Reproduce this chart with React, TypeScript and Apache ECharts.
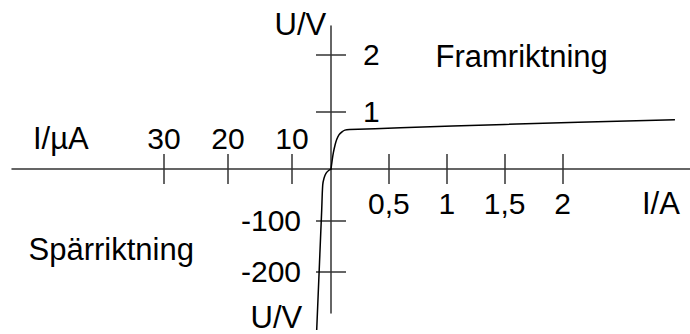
import React, { useEffect, useRef } from "react";
import * as echarts from "echarts";

// Forward direction (Framriktning): current in A, voltage in V
const forwardI = [0, 0.01, 0.02, 0.035, 0.05, 0.07, 0.095, 0.12, 0.16, 0.6, 1.5, 2.97];
const forwardU = [0, 0.15, 0.28, 0.42, 0.52, 0.6, 0.65, 0.68, 0.69, 0.72, 0.78, 0.86];

// Reverse direction (Spärriktning): current in µA, voltage in V
const reverseI = [3.8, 4.17, 4.69, 5.0, 5.2, 5.36, 6.14];
const reverseU = [0, -1.9, -8.4, -18, -31, -80, -313];

// Tick labels
const forwardITicks = [0.5, 1, 1.5, 2];
const forwardUTicks = [1, 2];
const reverseITicks = [10, 20, 30];
const reverseUTicks = [-100, -200];

const FONT = "'Liberation Sans', Arial, sans-serif";
const AXIS_COLOR = "#333";

export default function App() {
  const ref = useRef<HTMLDivElement>(null);

  useEffect(() => {
    if (!ref.current) return;
    const chart = echarts.init(ref.current, undefined, { renderer: "svg" });

    const lineStyle = { color: AXIS_COLOR, width: 1.5 };
    const labelBase = { fontSize: 30, fontFamily: FONT, color: "#000" };
    const tick = (values: number[], inside: boolean) => ({
      show: true,
      customValues: values,
      length: 15,
      inside,
      lineStyle,
    });
    const txt = (text: string, x: number, y: number) => ({
      type: "text",
      style: { text, x, y, font: `31px ${FONT}`, fill: "#000", textVerticalAlign: "middle" },
    });

    const option: any = {
      animation: false,
      grid: [
        { left: 331, top: 26, width: 359, height: 143 },
        { left: 12, top: 169, width: 319, height: 144 },
      ],
      xAxis: [
        {
          gridIndex: 0,
          type: "value",
          min: 0,
          max: 3.1,
          position: "bottom",
          axisLine: { show: true, onZero: false, lineStyle },
          axisTick: tick(forwardITicks, false),
          axisLabel: {
            ...labelBase,
            customValues: forwardITicks,
            margin: 19,
            formatter: (v: number) => String(v).replace(".", ","),
          },
          splitLine: { show: false },
        },
        {
          gridIndex: 0,
          type: "value",
          min: 0,
          max: 3.1,
          position: "bottom",
          axisLine: { show: false, onZero: false },
          axisTick: tick(forwardITicks, true),
          axisLabel: { show: false },
          splitLine: { show: false },
        },
        {
          gridIndex: 1,
          type: "value",
          inverse: true,
          min: 3.90625,
          max: 53.75,
          position: "top",
          axisLine: { show: true, onZero: false, lineStyle },
          axisTick: tick(reverseITicks, false),
          axisLabel: { ...labelBase, customValues: reverseITicks, margin: 16 },
          splitLine: { show: false },
        },
        {
          gridIndex: 1,
          type: "value",
          inverse: true,
          min: 3.90625,
          max: 53.75,
          position: "top",
          axisLine: { show: false, onZero: false },
          axisTick: tick(reverseITicks, true),
          axisLabel: { show: false },
          splitLine: { show: false },
        },
      ],
      yAxis: [
        {
          gridIndex: 0,
          type: "value",
          min: 0,
          max: 2.5,
          position: "left",
          axisLine: { show: true, onZero: false, lineStyle },
          axisTick: tick(forwardUTicks, false),
          axisLabel: { ...labelBase, customValues: forwardUTicks, inside: true, margin: 32 },
          splitLine: { show: false },
        },
        {
          gridIndex: 0,
          type: "value",
          min: 0,
          max: 2.5,
          position: "left",
          axisLine: { show: false, onZero: false },
          axisTick: tick(forwardUTicks, true),
          axisLabel: { show: false },
          splitLine: { show: false },
        },
        {
          gridIndex: 1,
          type: "value",
          min: -280,
          max: 0,
          position: "right",
          axisLine: { show: true, onZero: false, lineStyle },
          axisTick: tick(reverseUTicks, false),
          axisLabel: { ...labelBase, customValues: reverseUTicks, inside: true, margin: 30 },
          splitLine: { show: false },
        },
        {
          gridIndex: 1,
          type: "value",
          min: -280,
          max: 0,
          position: "right",
          axisLine: { show: false, onZero: false },
          axisTick: tick(reverseUTicks, true),
          axisLabel: { show: false },
          splitLine: { show: false },
        },
      ],
      series: [
        {
          name: "Framriktning",
          type: "line",
          xAxisIndex: 0,
          yAxisIndex: 0,
          data: forwardI.map((v, i) => [v, forwardU[i]]),
          showSymbol: false,
          smooth: 0.3,
          lineStyle: { color: "#000", width: 1.5 },
          clip: false,
        },
        {
          name: "Spärriktning",
          type: "line",
          xAxisIndex: 2,
          yAxisIndex: 2,
          data: reverseI.map((v, i) => [v, reverseU[i]]),
          showSymbol: false,
          smooth: 0.3,
          lineStyle: { color: "#000", width: 1.5 },
          clip: false,
        },
      ],
      graphic: [
        txt("U/V", 274.5, 24.5),
        txt("Framriktning", 435.5, 56),
        txt("I/µA", 33, 138),
        txt("I/A", 642, 203),
        txt("Spärriktning", 28.5, 249.5),
        txt("U/V", 250.6, 317.5),
      ],
    };

    chart.setOption(option);
    return () => chart.dispose();
  }, []);

  return (
    <div
      ref={ref}
      style={{ position: "fixed", left: 0, top: 0, width: 690, height: 334, background: "#fff" }}
    />
  );
}
